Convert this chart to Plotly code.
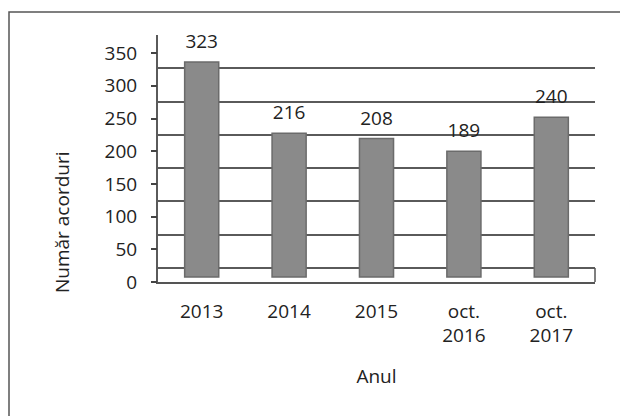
import plotly.graph_objects as go

categories = ["2013", "2014", "2015", "oct.<br>2016", "oct.<br>2017"]
values = [323, 216, 208, 189, 240]
tick_values = [0, 50, 100, 150, 200, 250, 300, 350]
tick_labels = ["0", "50", "100", "150", "200", "250", "300", "350"]
y_title = "Număr acorduri"
x_title = "Anul"

FONT = "Open Sans"
FS = 19
OFF = 8  # page body margin
W, H = 628 - OFF, 416 - OFF
L, R, T, B = 158 - OFF, 595 - OFF, 35 - OFF, 282 - OFF  # plot area in pixels (figure coords)

fig = go.Figure()

fig.add_trace(go.Scatter(x=categories, y=[None]*len(categories), yaxis="y",
                         showlegend=False, hoverinfo="skip"))
fig.add_trace(go.Bar(
    x=categories, y=values, yaxis="y2",
    marker=dict(color="#8a8a8a", line=dict(color="#6b6b6b", width=1.5)),
    showlegend=False,
))
# value labels (placed in back-wall space, as in the 3D original)
fig.add_trace(go.Scatter(
    x=categories, y=values, yaxis="y", mode="text",
    text=[str(v) for v in values], textposition="top center",
    textfont=dict(family=FONT, size=FS, color="#222"),
    cliponaxis=False, showlegend=False, hoverinfo="skip",
))
fig.add_trace(go.Scatter(x=categories, y=[None]*len(categories), yaxis="y3",
                         showlegend=False, hoverinfo="skip"))

ph = B - T
back_scale = 0.666
bar_scale = 0.666
front_scale = 0.654
back0 = 268 - OFF
bar0 = 277 - OFF

fig.update_layout(
    width=W, height=H, autosize=False,
    margin=dict(l=L, r=W - R, t=T, b=H - B, pad=0),
    paper_bgcolor="white", plot_bgcolor="white",
    bargap=0.61,
    font=dict(family=FONT, size=FS, color="#222"),
    xaxis=dict(
        type="category", showgrid=False, showline=True, linecolor="#555", linewidth=1.5,
        ticks="", tickfont=dict(family=FONT, size=FS, color="#222"),
        ticklabelstandoff=11,
        title=dict(text=x_title, font=dict(family=FONT, size=FS, color="#222"), standoff=22),
        fixedrange=True,
    ),
    yaxis=dict(
        range=[-(B - back0) / back_scale, ph / back_scale - (B - back0) / back_scale],
        tickvals=tick_values, showticklabels=False, ticks="",
        showgrid=True, gridcolor="#5a5a5a", gridwidth=1.5, zeroline=False,
        showline=True, linecolor="#5a5a5a", linewidth=1.5,
    ),
    yaxis2=dict(
        overlaying="y", range=[-(B - bar0) / bar_scale, ph / bar_scale - (B - bar0) / bar_scale],
        showgrid=False, showticklabels=False, ticks="", zeroline=False, showline=False,
    ),
    yaxis3=dict(
        overlaying="y", side="left", range=[0, ph / front_scale],
        tickvals=tick_values, ticktext=tick_labels, ticks="outside", ticklen=6,
        tickcolor="#444", tickwidth=1.5, showgrid=False, zeroline=False, showline=False,
        tickfont=dict(family=FONT, size=FS, color="#222"), ticklabelstandoff=10,
    ),
    shapes=[
        dict(type="rect", xref="paper", yref="paper",
             x0=(9 - OFF - L) / (R - L), x1=(700 - L) / (R - L),
             y0=(B - 480) / ph, y1=(B - (12 - OFF)) / ph,
             line=dict(color="#555", width=1.5), layer="below"),
        dict(type="line", xref="paper", yref="paper", x0=1, x1=1,
             y0=0, y1=(B - back0) / ph, line=dict(color="#555", width=1.5)),
    ],
    annotations=[
        dict(text=y_title, textangle=-90, xref="paper", yref="paper",
             x=(62 - OFF - L) / (R - L), y=(B - (222 - OFF)) / ph, showarrow=False,
             font=dict(family=FONT, size=FS, color="#222"),
             xanchor="center", yanchor="middle"),
    ],
)

fig.write_html("out.html")
